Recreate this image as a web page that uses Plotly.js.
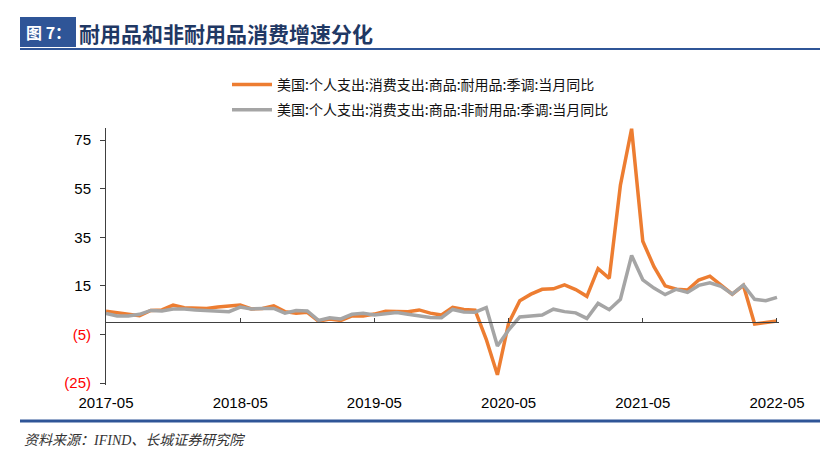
<!DOCTYPE html>
<html><head><meta charset="utf-8">
<script src="https://cdn.plot.ly/plotly-3.0.1.min.js"></script>
<style>html,body{margin:0;padding:0;background:#fff}#chart{width:840px;height:451px}</style>
</head><body><div id="chart"></div>
<script>
// ---- data ----
const months = [
  '2017-05','2017-06','2017-07','2017-08','2017-09','2017-10','2017-11','2017-12',
  '2018-01','2018-02','2018-03','2018-04','2018-05','2018-06','2018-07','2018-08','2018-09','2018-10','2018-11','2018-12',
  '2019-01','2019-02','2019-03','2019-04','2019-05','2019-06','2019-07','2019-08','2019-09','2019-10','2019-11','2019-12',
  '2020-01','2020-02','2020-03','2020-04','2020-05','2020-06','2020-07','2020-08','2020-09','2020-10','2020-11','2020-12',
  '2021-01','2021-02','2021-03','2021-04','2021-05','2021-06','2021-07','2021-08','2021-09','2021-10','2021-11','2021-12',
  '2022-01','2022-02','2022-03','2022-04','2022-05'
];
const durable = [
  4.6,3.8,3.3,2.7,4.9,5.1,7.1,6.0,
  5.7,5.7,6.3,6.7,7.1,5.5,5.7,6.8,4.4,3.7,4.1,0.5,
  1.4,0.8,2.7,2.6,3.4,4.6,4.4,4.4,5.1,3.8,3.0,6.2,
  5.3,5.0,-7.0,-21.6,-0.4,8.9,11.6,13.6,13.8,15.4,13.5,10.7,
  22.1,18.1,56.5,79.7,33.4,22.9,15.0,13.6,13.3,17.4,19.0,15.3,
  11.6,15.2,-0.7,-0.1,0.5
];
const nondurable = [
  3.7,2.6,2.6,3.3,4.9,4.7,5.5,5.5,
  5.1,4.9,4.7,4.4,6.3,5.5,5.7,5.7,3.8,4.9,4.7,0.8,
  1.9,1.4,3.3,3.7,3.0,3.6,4.0,3.3,2.5,2.0,1.9,5.3,
  4.3,4.2,6.1,-9.7,-3.2,2.2,2.6,3.0,5.4,4.4,3.9,1.6,
  7.8,5.2,9.5,27.5,17.5,14.1,11.4,13.6,12.3,15.2,16.3,14.8,
  11.6,15.4,9.5,8.9,10.3
];
const seriesNames = [
  '美国:个人支出:消费支出:商品:耐用品:季调:当月同比',
  '美国:个人支出:消费支出:商品:非耐用品:季调:当月同比'
];
const xTickLabels = ['2017-05','2018-05','2019-05','2020-05','2021-05','2022-05'];
const yTickVals = [-25,-5,15,35,55,75];
const titleText = '耐用品和非耐用品消费增速分化';
const figLabel = '图 7：';
const sourceText = '资料来源：IFIND、长城证券研究院';

// ---- layout helpers ----
const W = 840, H = 451;
const M = {l:106, r:61, t:128, b:66};
const PW = W - M.l - M.r, PH = H - M.t - M.b;
const px = x => (x - M.l) / PW;
const py = y => (H - M.b - y) / PH;
const yRange = [-25.8, 80];
const xRange = [0, 60.18];
const zeroFrac = (0 - yRange[0]) / (yRange[1] - yRange[0]);

const yTickText = yTickVals.map(v => v < 0
  ? '<span style="color:#FF0000">(' + Math.abs(v) + ')</span>'
  : String(v));

const axisColor = '#404040';
const blue = '#2F5597';

const traces = [
  {x: months, y: durable, type:'scatter', mode:'lines', name: seriesNames[0],
   line:{color:'#ED7D31', width:3.5}, legendgroup:'a', xaxis:'x', yaxis:'y', hoverinfo:'skip'},
  {x: months, y: nondurable, type:'scatter', mode:'lines', name: seriesNames[1],
   line:{color:'#A5A5A5', width:3.5}, legendgroup:'b', xaxis:'x2', yaxis:'y', hoverinfo:'skip'}
];

const layout = {
  width: W, height: H, margin: Object.assign({}, M, {autoexpand:false}),
  paper_bgcolor:'#fff', plot_bgcolor:'#fff',
  showlegend: true,
  legend: {xref:'paper', yref:'paper', x: px(227), y: py(69), xanchor:'left', yanchor:'top',
           bgcolor:'rgba(0,0,0,0)', tracegroupgap: 4, itemwidth: 40,
           font:{family:'Noto Sans CJK SC', size:14, color:'#111'}},
  xaxis: {type:'category', range: xRange, tickvals: xTickLabels, ticktext: xTickLabels,
          showline:false, showgrid:false, zeroline:false, tickangle:0,
          ticks:'outside', ticklen:4, tickcolor:'rgba(0,0,0,0)',
          tickfont:{family:'Liberation Sans, Arial', size:15, color:'#000'}, fixedrange:true},
  xaxis2: {type:'category', overlaying:'x', anchor:'free', position: zeroFrac, side:'bottom',
           range: xRange, tickvals: xTickLabels, showticklabels:false,
           showline:true, linecolor: axisColor, linewidth:1,
           ticks:'inside', ticklen:4, tickcolor: axisColor, tickwidth:1,
           showgrid:false, zeroline:false, fixedrange:true},
  yaxis: {range: yRange, tickvals: yTickVals, ticktext: yTickText,
          showline:true, linecolor: axisColor, linewidth:1,
          ticks:'outside', ticklen:5, tickcolor: axisColor,
          showgrid:false, zeroline:false, ticklabelstandoff: 6,
          tickfont:{family:'Liberation Sans, Arial', size:15, color:'#000'}, fixedrange:true},
  shapes: [
    {type:'rect', xref:'paper', yref:'paper', x0: px(20), x1: px(76), y0: py(47), y1: py(17),
     fillcolor: blue, line:{width:0}, layer:'above'},
    {type:'line', xref:'paper', yref:'paper', x0: px(20), x1: px(820), y0: py(49), y1: py(49),
     line:{color: blue, width:2}},
    {type:'line', xref:'paper', yref:'paper', x0: px(20), x1: px(820), y0: py(421), y1: py(421),
     line:{color: blue, width:3}}
  ],
  annotations: [
    {text: figLabel, xref:'paper', yref:'paper', x: px(48), y: py(32), xanchor:'center', yanchor:'middle',
     showarrow:false, font:{family:'Noto Sans CJK SC', size:16, color:'#fff', weight:'bold'}},
    {text: titleText, xref:'paper', yref:'paper', x: px(77), y: py(33), xanchor:'left', yanchor:'middle',
     showarrow:false, font:{family:'Noto Sans CJK SC', size:21, color:'#1F3864', weight:'bold'}},
    {text: sourceText, xref:'paper', yref:'paper', x: px(22), y: py(440), xanchor:'left', yanchor:'middle',
     showarrow:false, font:{family:'Liberation Serif, Noto Sans CJK SC', size:14, color:'#333', style:'italic'}}
  ]
};

Plotly.newPlot('chart', traces, layout, {displayModeBar:false, staticPlot:true});
</script>
</body></html>
